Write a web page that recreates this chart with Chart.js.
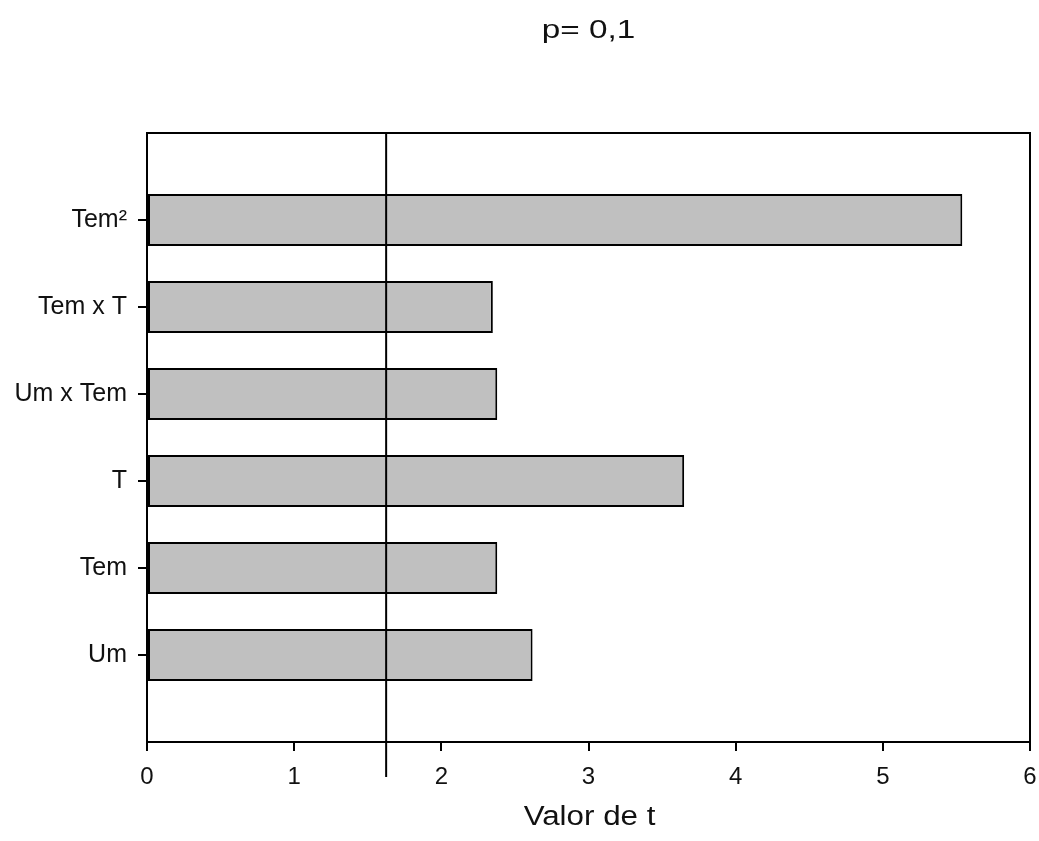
<!DOCTYPE html>
<html>
<head>
<meta charset="utf-8">
<script src="https://cdn.jsdelivr.net/npm/chart.js@4.4.0/dist/chart.umd.min.js"></script>
<style>
  html, body { margin: 0; padding: 0; background: #fff; }
  #wrap { width: 1039px; height: 841px; }
</style>
</head>
<body>
<div id="wrap"><canvas id="tChart" width="1039" height="841"></canvas></div>
<script>
// t values per term
var categories = ['Tem\u00B2', 'Tem x T', 'Um x Tem', 'T', 'Tem', 'Um'];
var tValues = [5.54, 2.35, 2.38, 3.65, 2.38, 2.62];
var xTicks = [0, 1, 2, 3, 4, 5, 6];
var tCrit = 1.625;
var chartTitle = 'p= 0,1';
var xTitle = 'Valor de t';

// blank slot above and below so bars sit like in the original
var labels = [''].concat(categories, ['']);
var values = [null].concat(tValues, [null]);

var FONT = '"Liberation Sans", Arial, sans-serif';

// text in the original is a bit stretched sideways
function wideText(ctx, txt, x, y, size, sx) {
  ctx.save();
  ctx.translate(x, y);
  ctx.scale(sx, 1);
  ctx.font = size + 'px ' + FONT;
  ctx.fillText(txt, 0, 0);
  ctx.restore();
}

var extras = {
  id: 'extras',
  afterDatasetsDraw: function(chart) {
    var ctx = chart.ctx, a = chart.chartArea;
    var x = chart.scales.x.getPixelForValue(tCrit);
    var cx = (a.left + a.right) / 2;
    ctx.save();
    ctx.strokeStyle = '#000';
    ctx.lineWidth = 2;
    ctx.beginPath();
    ctx.moveTo(x, a.top);
    ctx.lineTo(x, a.bottom + 35);
    ctx.stroke();
    ctx.strokeRect(a.left, a.top, a.right - a.left, a.bottom - a.top);

    ctx.fillStyle = '#111';
    ctx.textAlign = 'center';
    ctx.textBaseline = 'alphabetic';
    wideText(ctx, chartTitle, cx, 38, 26, 1.28);
    wideText(ctx, xTitle, cx + 1, 825, 27, 1.16);
    ctx.restore();
  }
};

var ctx = document.getElementById('tChart').getContext('2d');
var chart = new Chart(ctx, {
  type: 'bar',
  data: {
    labels: labels,
    datasets: [{
      data: values,
      backgroundColor: '#c0c0c0',
      borderColor: '#000',
      borderWidth: 2,
      borderSkipped: false,
      categoryPercentage: 1,
      barPercentage: 0.6
    }]
  },
  options: {
    indexAxis: 'y',
    responsive: false,
    animation: false,
    layout: { padding: { top: 133, right: 0, left: 0, bottom: 0 } },
    plugins: { legend: { display: false }, tooltip: { enabled: false }, title: { display: false } },
    scales: {
      x: {
        type: 'linear',
        min: 0,
        max: 6,
        afterBuildTicks: function(scale) {
          scale.ticks = xTicks.map(function(v) { return { value: v }; });
        },
        afterFit: function(scale) {
          scale.height = 99;
          scale.paddingLeft = 0;
          scale.paddingRight = 9;
        },
        grid: { drawOnChartArea: false, drawTicks: true, tickLength: 9, color: '#000', lineWidth: 2 },
        border: { display: true, color: '#000', width: 2 },
        ticks: { color: '#111', font: { family: FONT, size: 24 }, padding: 12, maxRotation: 0 }
      },
      y: {
        type: 'category',
        offset: false,
        afterFit: function(scale) { scale.width = 147; },
        grid: {
          offset: false,
          drawOnChartArea: false,
          drawTicks: true,
          tickLength: 9,
          lineWidth: 2,
          color: function(c) { return (c.index === 0 || c.index === labels.length - 1) ? 'rgba(0,0,0,0)' : '#000'; }
        },
        border: { display: true, color: '#000', width: 2 },
        ticks: { color: '#111', font: { family: FONT, size: 25 }, padding: 11, autoSkip: false }
      }
    }
  },
  plugins: [extras]
});
</script>
</body>
</html>
